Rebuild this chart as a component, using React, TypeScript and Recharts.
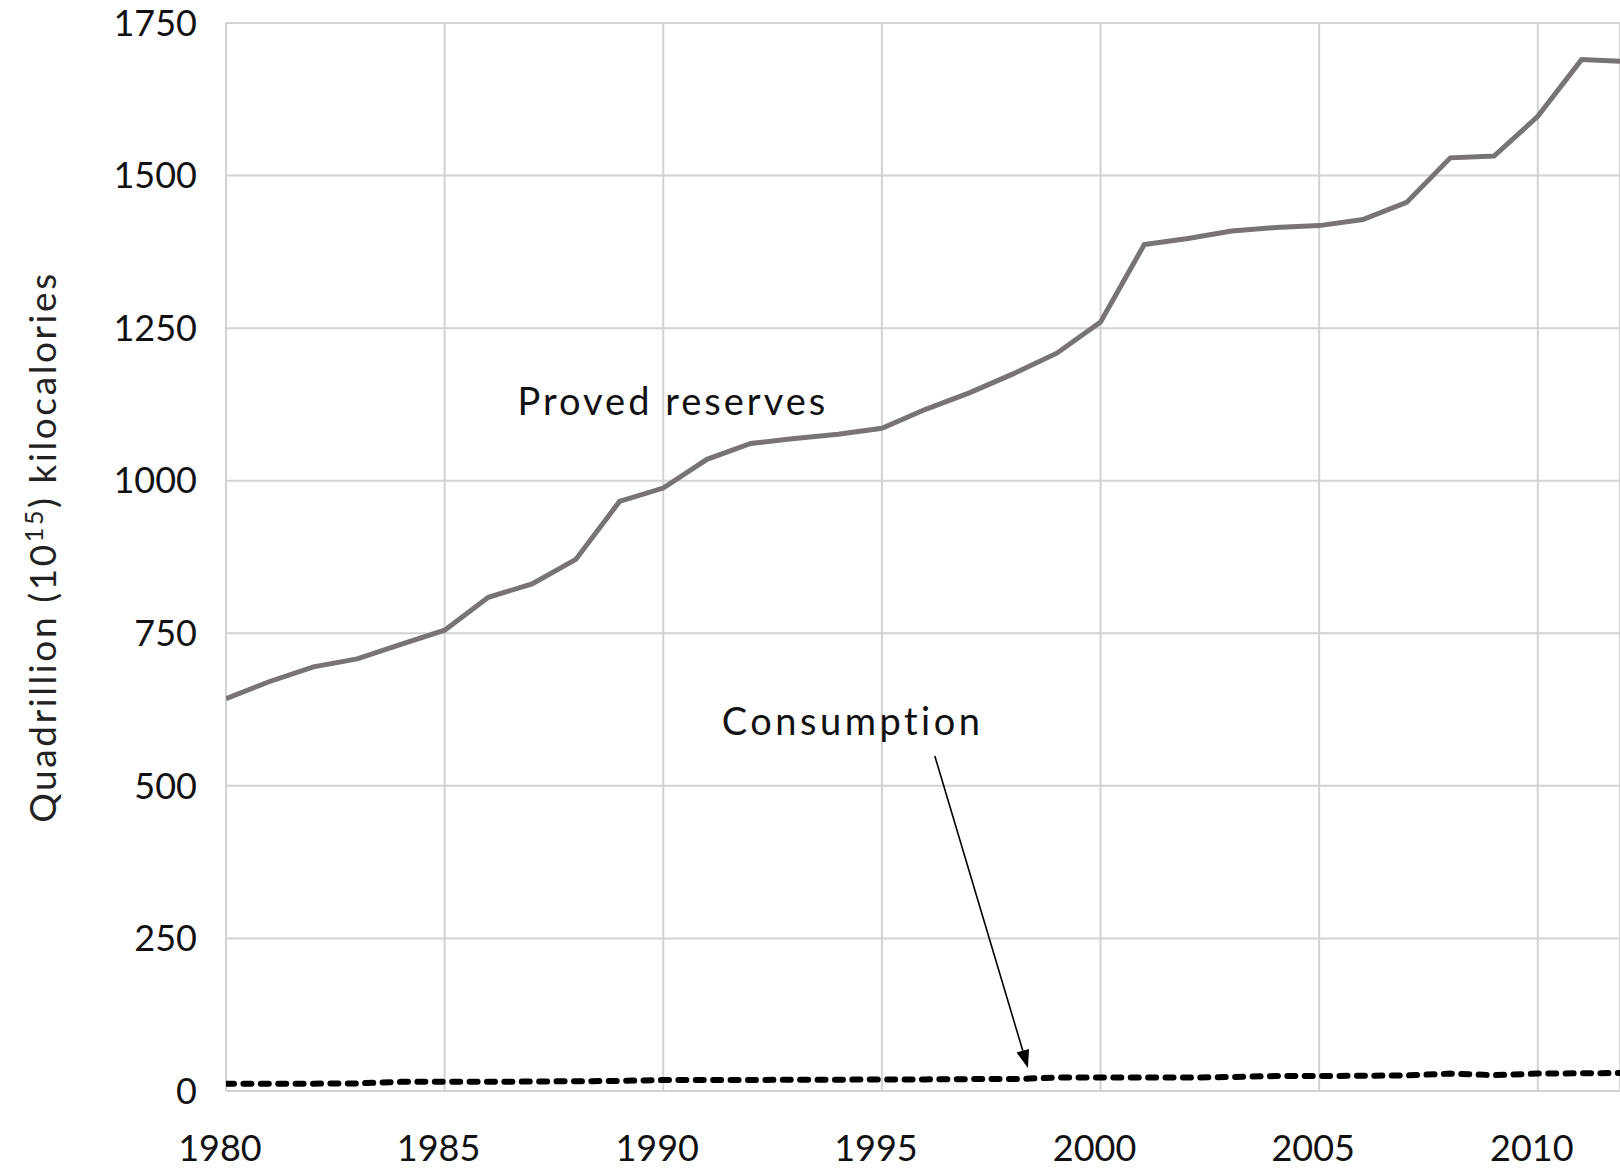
import React from "react";
import {
  LineChart,
  Line,
  XAxis,
  YAxis,
  CartesianGrid,
  ReferenceLine,
  ReferenceDot,
} from "recharts";

const years = [
  1980, 1981, 1982, 1983, 1984, 1985, 1986, 1987, 1988, 1989, 1990, 1991,
  1992, 1993, 1994, 1995, 1996, 1997, 1998, 1999, 2000, 2001, 2002, 2003,
  2004, 2005, 2006, 2007, 2008, 2009, 2010, 2011, 2012,
];

const provedReserves = [
  643, 671, 695, 708, 732, 755, 809, 831, 871, 966, 988, 1035,
  1061, 1069, 1076, 1086, 1117, 1144, 1175, 1209, 1260, 1387, 1397, 1409,
  1415, 1418, 1428, 1456, 1529, 1532, 1597, 1690, 1687,
];

const consumption = [
  12, 12, 12, 12.5, 15, 15, 15, 15.5, 16, 16.5, 18, 18,
  18, 18.5, 18.5, 19, 19, 19.5, 19.5, 22, 22, 22, 22, 23,
  24.5, 24.5, 25, 25.5, 28.5, 26, 28.5, 29, 29.5,
];

const xTicks = [1980, 1985, 1990, 1995, 2000, 2005, 2010];
const yTicks = [0, 250, 500, 750, 1000, 1250, 1500, 1750];

const data = years.map((year, i) => ({
  year,
  reserves: provedReserves[i],
  consumption: consumption[i],
}));

const FONT = "Lato, 'Open Sans', sans-serif";

// arrow from the "Consumption" label down to the dashed line
const Arrow = (props: any) => {
  const { x1, y1, x2, y2 } = props;
  const ang = Math.atan2(y2 - y1, x2 - x1);
  const len = 18;
  const half = 6.5;
  const bx = x2 - len * Math.cos(ang);
  const by = y2 - len * Math.sin(ang);
  const px = -Math.sin(ang) * half;
  const py = Math.cos(ang) * half;
  return (
    <g>
      <line x1={x1} y1={y1} x2={bx} y2={by} stroke="#000" strokeWidth={1.6} />
      <polygon
        points={`${x2},${y2} ${bx + px},${by + py} ${bx - px},${by - py}`}
        fill="#000"
      />
    </g>
  );
};

const YTitle = (props: any) => {
  const vb = props.viewBox || {};
  const cy = (vb.y ?? 23) + (vb.height ?? 1068) / 2 - 10;
  const x = 56;
  return (
    <text
      x={x}
      y={cy}
      transform={`rotate(-90, ${x}, ${cy})`}
      textAnchor="middle"
      fontFamily={FONT}
      fontSize={37}
      letterSpacing={2.6}
      fill="#222"
    >
      <tspan>Quadrillion (10</tspan>
      <tspan fontSize={25} dy={-13}>
        15
      </tspan>
      <tspan dy={13}>) kilocalories</tspan>
    </text>
  );
};

export default function App() {
  return (
    <div
      style={{
        position: "absolute",
        left: 0,
        top: 0,
        width: 1620,
        height: 1169,
        background: "#fff",
      }}
    >
      <LineChart
        width={1620}
        height={1169}
        data={data}
        margin={{ top: 23, right: 0, bottom: 0, left: 0 }}
      >
        <CartesianGrid stroke="#d2d2d2" strokeWidth={2} />
        <XAxis
          dataKey="year"
          type="number"
          domain={[1980, 2011.88]}
          allowDataOverflow
          ticks={xTicks}
          height={78}
          axisLine={false}
          tickLine={false}
          tickSize={0}
          tickMargin={44}
          tick={{ fill: "#111", fontSize: 36, fontFamily: FONT, dx: -6 }}
        />
        <YAxis
          type="number"
          domain={[0, 1750]}
          ticks={yTicks}
          width={226}
          axisLine={false}
          tickLine={false}
          tickSize={0}
          tickMargin={29}
          tick={{ fill: "#111", fontSize: 36, fontFamily: FONT }}
          label={{ content: <YTitle /> }}
        />
        <Line
          type="linear"
          dataKey="reserves"
          stroke="#787473"
          strokeWidth={5}
          dot={false}
          isAnimationActive={false}
        />
        <Line
          type="linear"
          dataKey="consumption"
          stroke="#000"
          strokeWidth={6}
          strokeDasharray="8 9.4"
          strokeLinecap="round"
          dot={false}
          isAnimationActive={false}
        />
        <ReferenceLine
          segment={[
            { x: 1996.21, y: 549 },
            { x: 1998.34, y: 37.7 },
          ]}
          shape={<Arrow />}
        />
        <ReferenceDot
          x={1990.22}
          y={1130}
          r={0}
          fill="none"
          stroke="none"
          label={{
            value: "Proved reserves",
            position: "center",
            fill: "#111",
            fontSize: 38,
            fontFamily: FONT,
            letterSpacing: 3,
          }}
        />
        <ReferenceDot
          x={1994.33}
          y={606}
          r={0}
          fill="none"
          stroke="none"
          label={{
            value: "Consumption",
            position: "center",
            fill: "#111",
            fontSize: 38,
            fontFamily: FONT,
            letterSpacing: 3.5,
          }}
        />
      </LineChart>
    </div>
  );
}
